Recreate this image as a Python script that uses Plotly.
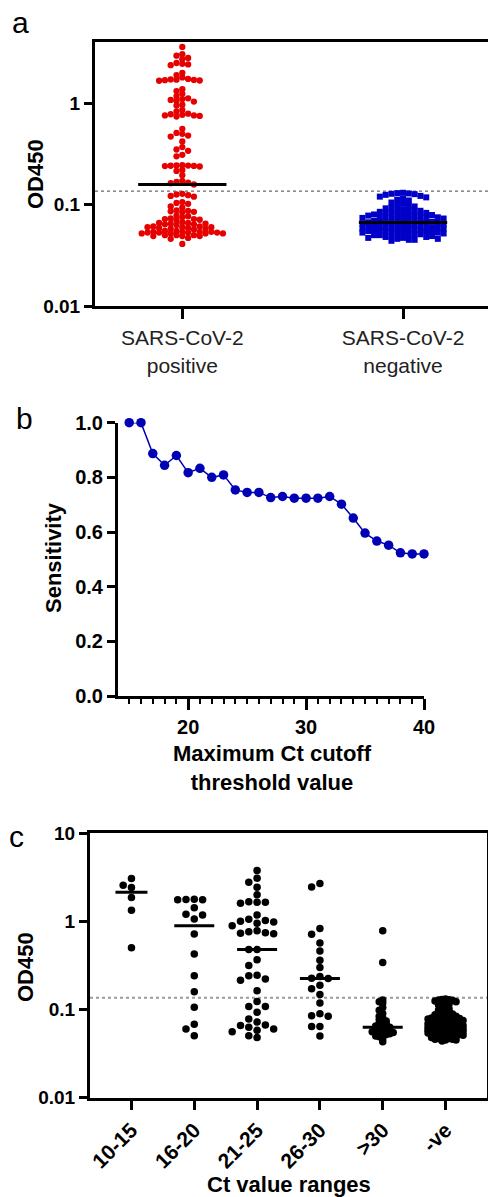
import numpy as np
import plotly.graph_objects as go

# ---------------- data ----------------
# Panel a: OD450 of SARS-CoV-2 positive / negative samples
cats_a = ["SARS-CoV-2<br>positive", "SARS-CoV-2<br>negative"]
od_positive = [
    3.6, 3.05, 2.95, 2.8, 2.72, 2.5, 2.45, 2.42, 2.38, 2.0, 1.9, 1.8,
    1.74, 1.72, 1.71, 1.70, 1.69, 1.68, 1.67, 1.38, 1.32, 1.24, 1.18,
    1.12, 1.10, 1.08, 1.06, 1.04, 0.97, 0.95, 0.86, 0.83,
    0.79, 0.78, 0.77, 0.76, 0.76, 0.75, 0.74, 0.56, 0.51, 0.50, 0.48, 0.47,
    0.42, 0.37, 0.35, 0.34, 0.31, 0.30,
    0.245, 0.244, 0.243, 0.242, 0.241, 0.240, 0.238, 0.22, 0.215, 0.195,
    0.172, 0.168, 0.165, 0.163, 0.158,
    0.128, 0.126, 0.124, 0.122, 0.12, 0.106, 0.104, 0.102, 0.096, 0.094,
    0.088, 0.087, 0.086, 0.085, 0.084, 0.078, 0.077, 0.075,
    0.073, 0.072, 0.072, 0.071, 0.070,
    0.067, 0.066, 0.066, 0.065, 0.065, 0.064, 0.064, 0.063,
    0.061, 0.061, 0.060, 0.060, 0.060, 0.059, 0.059, 0.058, 0.058, 0.057,
    0.055, 0.055, 0.054, 0.054, 0.054, 0.054, 0.053, 0.053, 0.053, 0.053,
    0.052, 0.052, 0.052, 0.052, 0.050, 0.050, 0.050, 0.049, 0.049, 0.049,
    0.047, 0.046, 0.041,
]
od_negative = [
    0.131, 0.130, 0.129, 0.128, 0.127, 0.125, 0.122, 0.120,
    0.118, 0.115, 0.112, 0.110,
    0.105, 0.102, 0.100, 0.098, 0.096,
    0.094, 0.092, 0.090, 0.089, 0.088, 0.087, 0.086, 0.085,
    0.084, 0.083, 0.082, 0.081, 0.080, 0.080, 0.079, 0.079, 0.078, 0.078,
    0.077, 0.076, 0.075, 0.075, 0.074, 0.074, 0.073, 0.073, 0.072, 0.071, 0.071, 0.070,
    0.069, 0.069, 0.068, 0.068, 0.067, 0.067, 0.066, 0.066, 0.065, 0.065,
    0.064, 0.064, 0.063, 0.063, 0.062, 0.062,
    0.061, 0.061, 0.060, 0.060, 0.059, 0.059, 0.058, 0.058, 0.057, 0.057,
    0.056, 0.056, 0.055, 0.055, 0.055, 0.056, 0.058, 0.057, 0.059, 0.060,
    0.054, 0.054, 0.053, 0.053, 0.052, 0.052, 0.051, 0.051, 0.050, 0.050,
    0.049, 0.049, 0.048, 0.048, 0.053, 0.051,
    0.047, 0.047, 0.046, 0.046, 0.045, 0.045, 0.044,
]
cutoff = 0.136

# Panel b: sensitivity vs maximum Ct cutoff
ct_cutoff = list(range(15, 41))
sensitivity = [1.0, 1.0, 0.887, 0.844, 0.880, 0.817, 0.833, 0.800, 0.809,
               0.754, 0.745, 0.745, 0.726, 0.730, 0.724, 0.724, 0.724, 0.730,
               0.702, 0.651, 0.596, 0.567, 0.552, 0.524, 0.520, 0.520]

# Panel c: OD450 by Ct value range
cats_c = ["10-15", "16-20", "21-25", "26-30", ">30", "-ve"]
od_ct_10_15 = [3.05, 2.56, 2.41, 1.86, 1.33, 0.50]
od_ct_16_20 = [1.75, 1.77, 1.75, 1.76, 1.42, 1.18, 1.20, 1.06,
               0.718, 0.425, 0.241, 0.159, 0.106, 0.068, 0.060, 0.0504]
od_ct_21_25 = [3.76, 3.08, 2.77, 2.43, 1.99, 1.64, 1.60, 1.66, 1.64, 1.18,
               1.05, 1.0, 0.98, 1.02, 0.95, 0.89, 0.74, 0.73, 0.76, 0.78, 0.72,
               0.477, 0.477,
               0.367, 0.314, 0.241, 0.214, 0.222, 0.245, 0.163, 0.123, 0.108,
               0.108, 0.093, 0.0665, 0.060, 0.056, 0.066, 0.078, 0.063, 0.048,
               0.0505, 0.072, 0.058]
od_ct_26_30 = [2.68, 2.45, 0.826, 0.71, 0.567, 0.46, 0.361, 0.298, 0.237,
               0.226, 0.224, 0.188, 0.172, 0.148, 0.118, 0.0896, 0.084, 0.085,
               0.064, 0.064, 0.0499]
od_ct_over_30 = [0.78, 0.34, 0.128, 0.122, 0.118, 0.105, 0.098, 0.090, 0.084,
                 0.080, 0.077, 0.074, 0.072, 0.070, 0.068, 0.066, 0.065, 0.064,
                 0.063, 0.062, 0.061, 0.060, 0.059, 0.058, 0.057, 0.056, 0.056,
                 0.055, 0.055, 0.054, 0.053, 0.052, 0.051, 0.050, 0.049, 0.047,
                 0.043]
od_ct_negative = od_negative

# ---------------- geometry / style ----------------
W, H = 488, 1197
FONT = "Arial, Liberation Sans, Helvetica, sans-serif"

A_L, A_R, A_T, A_B = 95, 488, 42, 306
A_XR = [-0.3956, 1.385]
A_YR = [-2, 0.605]
B_L, B_R, B_T, B_B = 118, 424, 422.7, 696
C_L, C_R, C_T, C_B = 90, 487, 833, 1097.7
C_XR = [-0.66, 5.66]
C_YR = [-2, 1]


def fx(x):
    return x / W


def fy(y):
    return 1 - y / H


def beeswarm(vals, col_px, diam_px, px_per_decade, max_k=None):
    ys = np.log10(np.asarray(vals, float)) * px_per_decade
    order = np.argsort(-ys, kind="stable")
    cand = [0]
    for i in range(1, 60):
        cand += [-i, i]
    if max_k is not None:
        cand = [k for k in cand if abs(k) <= max_k]
    cols = {}
    offs = np.zeros(len(ys))
    for idx in order:
        y = ys[idx]
        chosen, bestk, bestd = None, 0, -1.0
        for k in cand:
            placed = cols.get(k, [])
            d = min((abs(y - yy) for yy in placed), default=1e9)
            if d >= diam_px:
                chosen = k
                break
            if d > bestd:
                bestd, bestk = d, k
        if chosen is None:
            chosen = bestk
        cols.setdefault(chosen, []).append(y)
        offs[idx] = chosen * col_px
    return offs


fig = go.Figure()

# ---------------- panel a ----------------
ppu_a = (A_R - A_L) / (A_XR[1] - A_XR[0])
ppd_a = (A_B - A_T) / (A_YR[1] - A_YR[0])
groups_a = [(od_positive, "#E60000", "circle", 6.3, 5.8, 4.6, 7),
            (od_negative, "#0000C8", "square", 6.0, 5.8, 4.6, 7)]
for i, (vals, col, sym, sz, cpx, thr, mk) in enumerate(groups_a):
    offs = beeswarm(vals, cpx, thr, ppd_a, mk)
    fig.add_trace(go.Scatter(
        x=i + offs / ppu_a, y=vals, mode="markers",
        marker=dict(color=col, symbol=sym, size=sz, line=dict(width=0)),
        xaxis="x", yaxis="y", showlegend=False, cliponaxis=False))
for i, g in enumerate(groups_a):
    med = float(np.median(g[0]))
    fig.add_trace(go.Scatter(
        x=[i - 0.2, i + 0.2], y=[med, med], mode="lines",
        line=dict(color="black", width=3), xaxis="x", yaxis="y",
        showlegend=False))

# ---------------- panel b ----------------
fig.add_trace(go.Scatter(
    x=ct_cutoff, y=sensitivity, mode="lines+markers",
    line=dict(color="#0000B4", width=1.5),
    marker=dict(color="#0000B4", size=9.5),
    xaxis="x2", yaxis="y2", showlegend=False, cliponaxis=False))

# ---------------- panel c ----------------
ppu_c = (C_R - C_L) / (C_XR[1] - C_XR[0])
ppd_c = (C_B - C_T) / (C_YR[1] - C_YR[0])
groups_c = [od_ct_10_15, od_ct_16_20, od_ct_21_25, od_ct_26_30,
            od_ct_over_30, od_ct_negative]
swarm_c = [(8.3, 7.2, None), (8.3, 7.2, None), (8.3, 7.2, None),
           (8.3, 7.2, None), (3.5, 3.0, 5), (3.5, 3.0, 5)]
line_half_px = [16, 20, 20, 20, 20, 20]
for i, vals in enumerate(groups_c):
    cpx, thr, mk = swarm_c[i]
    offs = beeswarm(vals, cpx, thr, ppd_c, mk)
    fig.add_trace(go.Scatter(
        x=i + offs / ppu_c, y=vals, mode="markers",
        marker=dict(color="black", size=7.5, line=dict(width=0)),
        xaxis="x3", yaxis="y3", showlegend=False, cliponaxis=False))
for i, vals in enumerate(groups_c):
    med = float(np.median(vals))
    hw = line_half_px[i] / ppu_c
    fig.add_trace(go.Scatter(
        x=[i - hw, i + hw], y=[med, med], mode="lines",
        line=dict(color="black", width=3), xaxis="x3", yaxis="y3",
        showlegend=False))

# ---------------- axes ----------------
bold_tick = dict(family=FONT, size=19, color="black", weight="bold")
axis_common = dict(showline=True, linecolor="black", linewidth=3,
                   ticks="outside", tickwidth=3, tickcolor="black",
                   showgrid=False, zeroline=False)

fig.update_layout(
    width=W, height=H, margin=dict(l=0, r=0, t=0, b=0, autoexpand=False),
    paper_bgcolor="white", plot_bgcolor="white", showlegend=False,
    font=dict(family=FONT, color="black"),
    xaxis=dict(domain=[fx(A_L), fx(A_R)], range=A_XR, anchor="y",
               mirror=True, tickvals=[0, 1], ticktext=cats_a, ticklen=10,
               tickfont=dict(family=FONT, size=21, color="#222"),
               ticklabelstandoff=1, **axis_common),
    yaxis=dict(domain=[fy(A_B), fy(A_T)], type="log", range=A_YR,
               anchor="x", tickvals=[0.01, 0.1, 1],
               ticktext=["0.01", "0.1", "1"], ticklen=8,
               tickfont=bold_tick, **axis_common),
    xaxis2=dict(domain=[fx(B_L), fx(B_R)], range=[14.05, 40], anchor="y2",
                tickmode="linear", tick0=0, dtick=10, ticklen=11,
                tickfont=dict(family=FONT, size=20, color="black", weight="bold"),
                minor=dict(dtick=1, tick0=0, ticks="outside", ticklen=5,
                           tickwidth=2, tickcolor="black", showgrid=False),
                **axis_common),
    yaxis2=dict(domain=[fy(B_B), fy(B_T)], range=[0, 1], anchor="x2",
                tickmode="linear", tick0=0, dtick=0.2, tickformat=".1f",
                ticklen=8,
                tickfont=dict(family=FONT, size=20, color="black", weight="bold"),
                **axis_common),
    xaxis3=dict(domain=[fx(C_L), fx(C_R)], range=C_XR, anchor="y3",
                mirror=True, tickvals=list(range(6)), ticktext=cats_c,
                tickangle=-45, ticklen=9,
                tickfont=dict(family=FONT, size=21, color="black", weight="bold"),
                **axis_common),
    yaxis3=dict(domain=[fy(C_B), fy(C_T)], type="log", range=C_YR,
                anchor="x3", mirror=True, tickvals=[0.01, 0.1, 1, 10],
                ticktext=["0.01", "0.1", "1", "10"], ticklen=8,
                tickfont=bold_tick, **axis_common),
)

# cutoff dotted lines
fig.add_shape(type="line", xref="x domain", yref="y", x0=0, x1=1,
              y0=cutoff, y1=cutoff, layer="below",
              line=dict(color="#444", width=1, dash="dot"))
fig.add_shape(type="line", xref="x3 domain", yref="y3", x0=0, x1=1,
              y0=cutoff, y1=cutoff, layer="below",
              line=dict(color="#9a9a9a", width=2, dash="dot"))

# text annotations
def ann(text, x, y, size, bold=False, angle=0, xanchor="center"):
    fig.add_annotation(text=text, x=fx(x), y=fy(y), xref="paper", yref="paper",
                       showarrow=False, textangle=angle, xanchor=xanchor,
                       yanchor="middle",
                       font=dict(family=FONT, size=size, color="black",
                                 weight="bold" if bold else "normal"))

ann("a", 10, 23, 30, xanchor="left")
ann("OD450", 35, 174, 22, bold=True, angle=-90)
ann("b", 14, 419, 30, xanchor="left")
ann("Sensitivity", 53, 558, 22, bold=True, angle=-90)
ann("Maximum Ct cutoff<br>threshold value", 272, 768, 22, bold=True)
ann("c", 7, 836, 30, xanchor="left")
ann("OD450", 25, 967, 22, bold=True, angle=-90)
ann("Ct value ranges", 289, 1184, 22, bold=True)

fig.write_html(
    "out.html",
    config={"displayModeBar": False},
    post_script="document.body.style.margin='0px';"
                "document.body.style.padding='0px';"
                "document.body.style.overflow='hidden';",
)
